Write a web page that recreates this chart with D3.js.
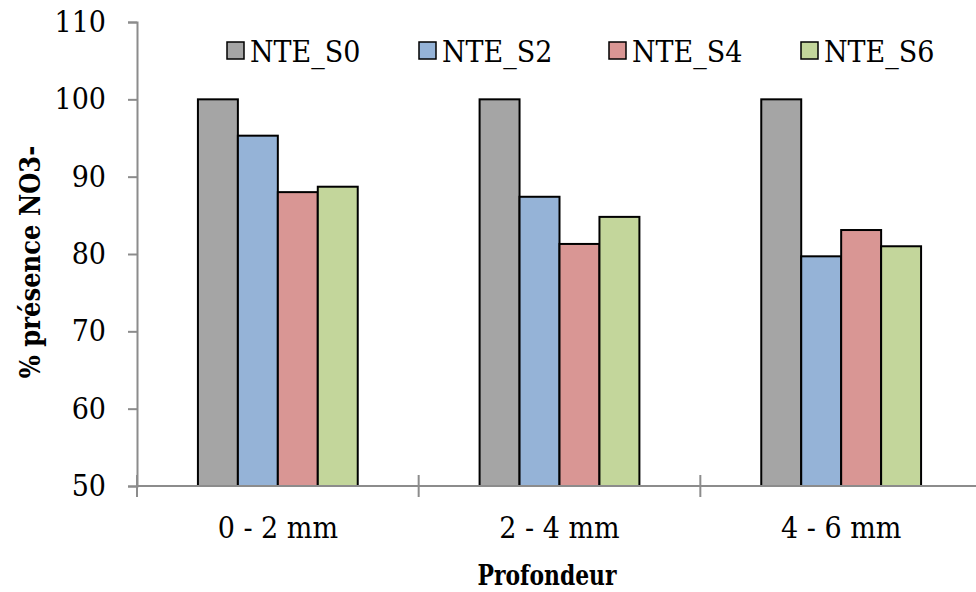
<!DOCTYPE html>
<html>
<head>
<meta charset="utf-8">
<script src="https://cdn.jsdelivr.net/npm/d3@7"></script>
<style>
  html, body { margin: 0; padding: 0; background: #fff; }
  svg { display: block; }
  .serif { font-family: "DejaVu Serif Condensed", "DejaVu Serif", "Liberation Serif", serif; font-stretch: condensed; }
</style>
</head>
<body>
<svg id="chart" width="976" height="592"></svg>
<script>
const categories = ["0 - 2 mm", "2 - 4 mm", "4 - 6 mm"];
const seriesNames = ["NTE_S0", "NTE_S2", "NTE_S4", "NTE_S6"];
const NTE_S0 = [100, 100, 100];
const NTE_S2 = [95.3, 87.4, 79.7];
const NTE_S4 = [88.0, 81.3, 83.1];
const NTE_S6 = [88.7, 84.8, 81.0];
const yTicks = [50, 60, 70, 80, 90, 100, 110];
const colors = ["#a5a5a5", "#95b3d7", "#d99694", "#c3d69b"];
const seriesValues = [NTE_S0, NTE_S2, NTE_S4, NTE_S6];

(function () {
const svg = d3.select("#chart");
const W = 976;
const plotLeft = 137, plotRight = 982, plotTop = 22, plotBottom = 486;

const x0 = d3.scaleBand().domain(categories).range([plotLeft, plotRight]).paddingInner(0).paddingOuter(0);
const groupPad = 0.2163;
const x1 = d3.scaleBand().domain(seriesNames)
  .range([x0.bandwidth() * groupPad, x0.bandwidth() * (1 - groupPad)]).padding(0);
const y = d3.scaleLinear().domain([50, 110]).range([plotBottom, plotTop]);

const axisColor = "#8c8c8c";

// bars
const data = [];
categories.forEach((c, i) => {
  seriesNames.forEach((s, j) => data.push({ cat: c, series: s, value: seriesValues[j][i], color: colors[j] }));
});
svg.append("g").selectAll("rect").data(data).join("rect")
  .attr("x", d => x0(d.cat) + x1(d.series))
  .attr("y", d => y(d.value))
  .attr("width", x1.bandwidth())
  .attr("height", d => y(50) - y(d.value))
  .attr("fill", d => d.color)
  .attr("stroke", "#000")
  .attr("stroke-width", 2);

// y axis
const yAxis = d3.axisLeft(y).tickValues(yTicks).tickSize(9).tickPadding(22).tickFormat(d3.format("d"));
const gy = svg.append("g").attr("transform", `translate(${plotLeft},0)`).call(yAxis);
gy.select(".domain").attr("stroke", axisColor).attr("stroke-width", 2);
gy.selectAll(".tick line").attr("stroke", axisColor).attr("stroke-width", 2);
gy.selectAll(".tick text").attr("class", "serif").attr("font-size", 30).attr("fill", "#000")
  .attr("font-family", null);
gy.attr("font-family", null);

// x axis
const gx = svg.append("g").attr("transform", `translate(0,${plotBottom})`);
gx.append("line").attr("x1", plotLeft).attr("x2", W).attr("y1", 0).attr("y2", 0)
  .attr("stroke", axisColor).attr("stroke-width", 2);
const boundaries = categories.map(c => x0(c)).concat([x0(categories[categories.length - 1]) + x0.bandwidth()]);
gx.selectAll("line.tk").data(boundaries).join("line").attr("class", "tk")
  .attr("x1", d => d).attr("x2", d => d).attr("y1", -11).attr("y2", 11)
  .attr("stroke", axisColor).attr("stroke-width", 2);
gx.selectAll("text").data(categories).join("text")
  .attr("class", "serif")
  .attr("x", d => x0(d) + x0.bandwidth() / 2)
  .attr("y", 52)
  .attr("text-anchor", "middle")
  .attr("font-size", 30)
  .text(d => d);

// axis titles
svg.append("text").attr("class", "serif")
  .attr("x", 547).attr("y", 585)
  .attr("text-anchor", "middle").attr("font-size", 27).attr("font-weight", "bold")
  .attr("textLength", 139).attr("lengthAdjust", "spacingAndGlyphs")
  .text("Profondeur");
svg.append("text").attr("class", "serif")
  .attr("transform", "translate(40,262) rotate(-90)")
  .attr("text-anchor", "middle").attr("font-size", 27).attr("font-weight", "bold")
  .text("% présence NO3-");

// legend
const legendX = [227, 419, 609, 801];
const lg = svg.append("g").selectAll("g").data(seriesNames).join("g")
  .attr("transform", (d, i) => `translate(${legendX[i]},42)`);
lg.append("rect").attr("width", 17).attr("height", 17)
  .attr("fill", (d, i) => colors[i]).attr("stroke", "#000").attr("stroke-width", 1.5);
lg.append("text").attr("class", "serif").attr("x", 23).attr("y", 20)
  .attr("font-size", 30).text(d => d);
})();
</script>
</body>
</html>
